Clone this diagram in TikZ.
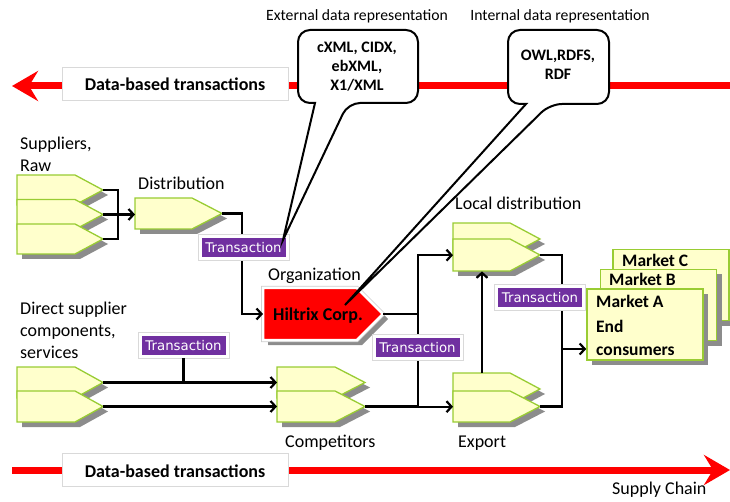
\documentclass[tikz,border=0pt]{standalone}
\usepackage{fontspec}
\setmainfont{Carlito}
\newfontfamily\tfont{DejaVu Sans}
\usetikzlibrary{arrows.meta,shadows,calc}
\definecolor{ylw}{RGB}{255,255,204}
\definecolor{grn}{RGB}{153,204,51}
\definecolor{shd}{RGB}{140,140,140}
\definecolor{tpur}{RGB}{112,48,160}
\definecolor{rd}{RGB}{255,0,0}
\tikzset{
  pics/penta/.style n args={4}{code={
    \fill[shd] (5,5) -- ({#1-#3+5},5) -- ({#1+5},{#2/2+5}) -- ({#1-#3+5},{#2+5}) -- (5,{#2+5}) -- cycle;
    \filldraw[#4] (0,0) -- ({#1-#3},0) -- (#1,{#2/2}) -- ({#1-#3},#2) -- (0,#2) -- cycle;
    \node[inner sep=0, minimum width=#1pt, minimum height=#2pt, anchor=north west] (-box) at (0,0) {};
    \coordinate (-tip) at (#1,{#2/2});
  }},
  pent/.style={fill=ylw, draw=grn, line width=1.3pt},
  hil/.style={fill=rd, draw=white, line width=2.5pt, preaction={draw=gray!40, line width=4pt}},
  conn/.style={line width=2.2pt, black},
  arr/.style={conn, -{Straight Barb[length=5pt,width=11pt]}},
  redline/.style={line width=7pt, rd},
  lbox/.style={draw=gray!30, line width=0.6pt, fill=white, minimum width=226pt, minimum height=33pt, inner sep=0},
  lboxtext/.style={inner sep=0, anchor=base, font=\bfseries\fontsize{18}{20}\selectfont},
  trans/.style={fill=tpur, text=white, font=\tfont\fontsize{13.3}{15}\selectfont, minimum width=87pt,
    minimum height=22pt, inner sep=0, draw=white, line width=3pt, preaction={draw=gray!30, line width=5pt}},
  market/.style={fill=ylw, draw=grn, line width=1.6pt, inner sep=0, minimum width=116pt, minimum height=71pt,
    drop shadow={shadow xshift=5pt, shadow yshift=-5pt, fill=shd, opacity=1}},
  lbl/.style={inner sep=0, anchor=base west, font=\fontsize{18}{22}\selectfont},
  mlbl/.style={inner sep=0, anchor=base west, font=\bfseries\fontsize{17.5}{23}\selectfont},
  hdr/.style={inner sep=0, anchor=base, font=\fontsize{15.7}{18}\selectfont},
  callout/.style={draw=black, line width=2pt, fill=white},
  cotext/.style={inner sep=0, anchor=base, font=\bfseries\fontsize{16}{19.5}\selectfont},
}
\begin{document}
\begin{tikzpicture}[x=1pt,y=-1pt]
\useasboundingbox (0,0) rectangle (730,502);

% red supply chain arrows
\coordinate (tl) at (12,86);
\coordinate (tr) at (730,86);
\draw[redline, {Stealth[length=26pt,width=30pt,inset=9pt]}-] (tl) -- (tr);
\node[lbox] (lt) at (175,83.5) {};
\node[lboxtext] (ltt) at (175,91) {Data-based transactions};
\coordinate (bl) at (12,470);
\coordinate (br) at (730,470);
\draw[redline, -{Stealth[length=26pt,width=30pt,inset=9pt]}] (bl) -- (br);
\node[lbox] (lb) at (175,469.5) {};
\node[lboxtext] (lbt) at (175,477) {Data-based transactions};
\node[lbl] (sc) at (612,494) {Supply Chain};

% headers
\node[hdr] (h1) at (357,21) {External data representation};
\node[hdr] (h2) at (560,21) {Internal data representation};

% labels
\node[lbl] (lsup1) at (20,150) {Suppliers,};
\node[lbl] (lsup2) at (20,171.5) {Raw};
\node[lbl] (ldist) at (138,190) {Distribution};
\node[lbl] (lorg) at (268,280) {Organization};
\node[lbl] (ldir1) at (20,314) {Direct supplier};
\node[lbl] (ldir2) at (20,336) {components,};
\node[lbl] (ldir3) at (20,358) {services};
\node[lbl] (lcomp) at (285,447) {Competitors};
\node[lbl] (lexp) at (458,447) {Export};
\node[lbl] (lloc) at (455,210) {Local distribution};

% shapes
\pic (sup1) at (17,175) {penta={86}{30}{28}{pent}};
\pic (sup2) at (17,199.5) {penta={86}{30}{28}{pent}};
\pic (sup3) at (17,224) {penta={86}{30}{28}{pent}};
\pic (dist) at (135,198) {penta={87}{31}{30}{pent}};
\pic (ds1) at (17,367) {penta={86}{31}{28}{pent}};
\pic (ds2) at (17,391) {penta={86}{31}{28}{pent}};
\pic (comp1) at (277,367) {penta={88}{31}{30}{pent}};
\pic (comp2) at (277,391) {penta={88}{31}{30}{pent}};
\pic (loc1) at (453,223) {penta={87}{32}{30}{pent}};
\pic (loc2) at (453,239) {penta={87}{32}{30}{pent}};
\pic (exp1) at (453,373) {penta={87}{32}{30}{pent}};
\pic (exp2) at (453,391) {penta={87}{31}{30}{pent}};
\pic (hilx) at (263,288) {penta={120}{52}{26}{hil}};
\node[inner sep=0, anchor=base, font=\bfseries\fontsize{18}{20}\selectfont] (hilt) at (318,320) {Hiltrix Corp.};

% markets
\node[market] (mC) at (671,285) {};
\node[market] (mB) at (658.5,305) {};
\node[market] (mA) at (645,324.5) {};
\node[mlbl] (tC) at (622,267) {Market C};
\node[mlbl] (tB) at (609,286) {Market B};
\node[mlbl] (tA) at (596,307) {Market A};
\node[mlbl] (tE1) at (596,332) {End};
\node[mlbl] (tE2) at (596,355) {consumers};

% connectors
\coordinate (bus1) at (118,214);
\draw[conn] (sup1-tip) -| (bus1) |- (sup3-tip);
\draw[arr] (sup2-tip) -- (dist-box.west |- sup2-tip);
\coordinate (bus2) at (242,314);
\draw[arr] (dist-tip) -| (bus2) -- (hilx-box.west |- bus2);
\coordinate (bus3) at (418,314);
\draw[conn] (hilx-tip) -- (bus3);
\draw[arr] (bus3) |- (loc2-box.west);
\draw[arr] (bus3) |- (exp2-box.west);
\draw[conn] (comp2-tip) -- (comp2-tip -| bus3);
\draw[arr] (ds1-tip) -- (comp1-box.west |- ds1-tip);
\draw[arr] (ds2-tip) -- (comp2-box.west |- ds2-tip);
\coordinate (up1) at ($(exp1-box.north west)+(29,0)$);
\coordinate (up2) at ($(loc2-box.south west)+(29,0)$);
\draw[arr] (up1) -- (up2);
\coordinate (bus5) at (562,349);
\draw[conn] (loc2-tip) -| (bus5);
\draw[conn] (exp2-tip) -| (bus5);
\draw[arr] (bus5) -- (bus5 -| mA.west);

% transaction boxes
\node[trans] (t1) at (243.5,247.5) {Transaction};
\node[trans] (t2) at (183.5,345.5) {Transaction};
\draw[conn] (t2.south) -- (t2.south |- ds1-tip);
\node[trans] (t3) at (417.5,347.5) {Transaction};
\node[trans] (t4) at (540,297.5) {Transaction};

% callouts
\draw[callout] (315,103) [rounded corners=12pt] -- (298,103) -- (298,30) -- (418,30) -- (418,103) -- (348,103) [sharp corners] -- (283,240) -- cycle;
\node[cotext] (c1a) at (357,53) {cXML, CIDX,};
\node[cotext] (c1b) at (357,72) {ebXML,};
\node[cotext] (c1c) at (357,91) {X1/XML};
\draw[callout] (526,104) [rounded corners=12pt] -- (508,104) -- (508,30) -- (609,30) -- (609,104) -- (550,104) [sharp corners] -- (345,305) -- cycle;
\node[cotext] (c2a) at (558,61) {OWL,RDFS,};
\node[cotext] (c2b) at (558,80) {RDF};
\end{tikzpicture}
\end{document}
